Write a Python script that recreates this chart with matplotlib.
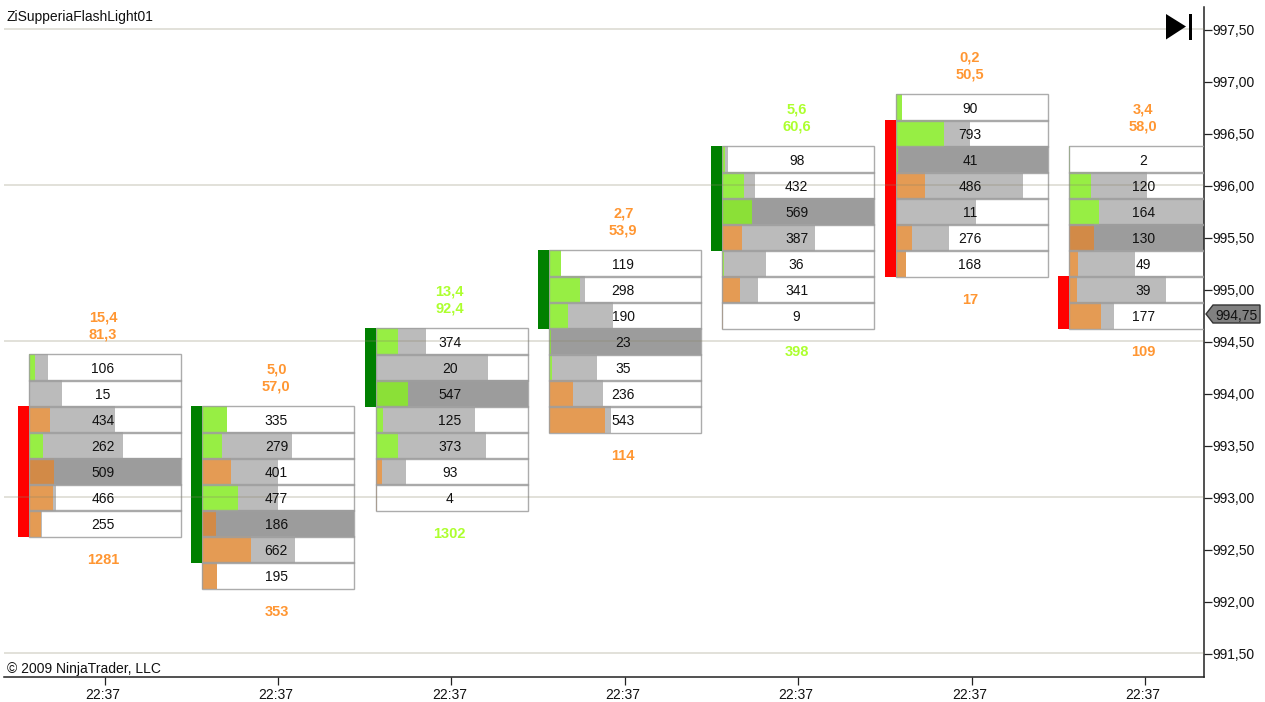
import matplotlib
matplotlib.use("Agg")
import matplotlib.pyplot as plt
from matplotlib.patches import Polygon, Rectangle
from matplotlib.transforms import ScaledTranslation

plt.rcParams['font.family'] = ['Liberation Sans', 'DejaVu Sans']

time_labels = ["22:37"] * 7
price_ticks = [997.5, 997.0, 996.5, 996.0, 995.5, 995.0, 994.5, 994.0,
               993.5, 993.0, 992.5, 992.0, 991.5]
price_labels = ["997,50", "997,00", "996,50", "996,00", "995,50", "995,00", "994,50",
                "994,00", "993,50", "993,00", "992,50", "992,00", "991,50"]
grid_prices = [997.5, 996.0, 994.5, 993.0, 991.5]

top_price = [994.25, 993.75, 994.5, 995.25, 996.25, 996.75, 996.25]
volumes = [
    [106, 15, 434, 262, 509, 466, 255],
    [335, 279, 401, 477, 186, 662, 195],
    [374, 20, 547, 125, 373, 93, 4],
    [119, 298, 190, 23, 35, 236, 543],
    [98, 432, 569, 387, 36, 341, 9],
    [90, 793, 41, 486, 11, 276, 168],
    [2, 120, 164, 130, 49, 39, 177],
]
# Length of the pale bar behind each row, in the 152-unit row width
total_len = [
    [19, 33, 86, 94, 152, 27, 13],
    [25, 90, 76, 76, 152, 93, 15],
    [50, 112, 152, 99, 110, 30, 0],
    [12, 36, 64, 152, 48, 54, 62],
    [6, 33, 152, 93, 44, 36, 0],
    [6, 74, 152, 127, 80, 53, 10],
    [0, 78, 152, 152, 66, 97, 45],
]
# Signed delta per row: + is green, - is orange
delta_len = [
    [6, 0, -21, 14, -25, -24, -12],
    [25, 20, -29, 36, -14, -49, -15],
    [22, 0, 32, 7, 22, -6, -1],
    [12, 31, 19, 2, 3, -24, -56],
    [3, 22, 30, -20, 2, -18, -1],
    [6, 48, 2, -29, 0, -16, -10],
    [1, 22, 30, -25, -9, -8, -32],
]
dark_row = [4, 4, 2, 3, 2, 2, 3]
side_top = [993.75, 993.75, 994.5, 995.25, 996.25, 996.5, 995.0]
side_bottom = [992.75, 992.5, 994.0, 994.75, 995.5, 995.25, 994.75]
side_up = [False, True, True, True, True, False, False]
head_a = ["15,4", "5,0", "13,4", "2,7", "5,6", "0,2", "3,4"]
head_b = ["81,3", "57,0", "92,4", "53,9", "60,6", "50,5", "58,0"]
head_up = [False, False, True, False, True, False, False]
foot = ["1281", "353", "1302", "114", "398", "17", "109"]
foot_up = [False, False, True, False, True, False, False]
last_price = 994.75
last_label = "994,75"

GREEN, GREEN_D = "#97EE44", "#8BE037"
ORANGE, ORANGE_D = "#E49B54", "#D28A47"
GRAY, GRAY_D = "#BBBBBB", "#9C9C9C"
TXT_G, TXT_O = "#ADFF2F", "#FF9632"

W, H = 1265, 702
X0_PX, STEP_PX = 104.5, 173.4
Y0_PX, UNIT_PX = 29.5, 104.0
AX_L, AX_R, AX_T, AX_B = 4.0, 1204.0, 6.5, 677.0


def xd(px):
    return (px - X0_PX) / STEP_PX


def yd(px):
    return 997.5 - (px - Y0_PX) / UNIT_PX


fig = plt.figure(figsize=(W / 100, H / 100), dpi=100, facecolor="white")
ax = fig.add_axes([AX_L / W, 1 - AX_B / H, (AX_R - AX_L) / W, (AX_B - AX_T) / H])
ax.set_xlim(xd(AX_L), xd(AX_R))
ax.set_ylim(yd(AX_B), yd(AX_T))

unit = 1 / STEP_PX
cell_l = -75.8 * unit
cell_w = 152 * unit
side_w = 11 * unit
rh = 0.25

for i, top in enumerate(top_price):
    left = i + cell_l
    n = len(volumes[i])
    prices = [top - rh * r for r in range(n)]
    for r, p in enumerate(prices):
        dark = r == dark_row[i]
        d = delta_len[i][r]
        ax.barh(p, cell_w, rh, left=left, color="white", zorder=1, linewidth=0)
        if total_len[i][r]:
            ax.barh(p, total_len[i][r] * unit, rh, left=left, linewidth=0, zorder=2,
                    color=GRAY_D if dark else GRAY)
        if d:
            col = (GREEN_D if dark else GREEN) if d > 0 else (ORANGE_D if dark else ORANGE)
            ax.barh(p, abs(d) * unit, rh, left=left, linewidth=0, zorder=3, color=col)
        ax.add_patch(Rectangle((left, p - rh / 2), cell_w, rh, fill=False,
                               edgecolor="#9E9E9E", alpha=0.85, linewidth=1.0, zorder=4))
        ax.text(i - 1.5 * unit, p, str(volumes[i][r]), ha="center", va="center_baseline",
                fontsize=10, color="#111111", zorder=7)
    ax.bar(left - side_w / 2, side_top[i] - side_bottom[i] + rh, side_w,
           bottom=side_bottom[i] - rh / 2, linewidth=0, zorder=4,
           color="#008000" if side_up[i] else "#FF0000")
    tc = TXT_G if head_up[i] else TXT_O
    box_top = top + rh / 2
    ax.text(i - 1.5 * unit, box_top + 38.5 / UNIT_PX, head_a[i], ha="center", va="center_baseline",
            fontsize=10.5, fontweight="bold", color=tc, zorder=7)
    ax.text(i - 1.5 * unit, box_top + 21.5 / UNIT_PX, head_b[i], ha="center", va="center_baseline",
            fontsize=10.5, fontweight="bold", color=tc, zorder=7)
    ax.text(i - 1.5 * unit, prices[-1] - rh / 2 - 22.5 / UNIT_PX, foot[i], ha="center",
            va="center_baseline", fontsize=10.5, fontweight="bold",
            color=TXT_G if foot_up[i] else TXT_O, zorder=7)

grid_shift = ScaledTranslation(0, 0.8 / 100, fig.dpi_scale_trans)
for g in grid_prices:
    ax.plot([0, 1], [g, g], color="#8A8468", alpha=0.25, linewidth=1.4, zorder=5,
            transform=ax.get_yaxis_transform() + grid_shift)

for s in ("left", "top"):
    ax.spines[s].set_visible(False)
for s in ("right", "bottom"):
    ax.spines[s].set_color("#222222")
    ax.spines[s].set_linewidth(1.1)

ax.yaxis.tick_right()
ax.set_yticks(price_ticks, price_labels)
ax.set_xticks(range(len(time_labels)), time_labels)
ax.tick_params(axis="y", length=5.8, width=0.9, color="#222222", pad=0.2, labelsize=10, labelcolor="#111111")
ax.tick_params(axis="x", length=5.8, width=0.9, color="#222222", pad=2.4, labelsize=10, labelcolor="#111111")
shift = ScaledTranslation(-2.0 / 100, 0, fig.dpi_scale_trans)
for lab in ax.get_xticklabels():
    lab.set_transform(lab.get_transform() + shift)

ax.text(xd(7), yd(16), "ZiSupperiaFlashLight01", ha="left", va="center_baseline",
        fontsize=10, color="#111111", zorder=7)
ax.text(xd(7), yd(668), "\u00a9 2009 NinjaTrader, LLC", ha="left", va="center_baseline",
        fontsize=10, color="#111111", zorder=7)

# Skip-to-end glyph, top right
ax.add_patch(Polygon([(xd(1166), yd(14)), (xd(1186), yd(26.5)), (xd(1166), yd(39.5))],
                     closed=True, facecolor="black", edgecolor="none", zorder=8))
ax.add_patch(Rectangle((xd(1188.7), yd(39.5)), 3.5 * unit, 25.5 / UNIT_PX,
                       facecolor="black", edgecolor="none", zorder=8))

# Last price flag on the axis
cy = 314
ax.add_patch(Polygon([(xd(1206), yd(cy)), (xd(1213), yd(cy - 9)), (xd(1260), yd(cy - 9)),
                      (xd(1260), yd(cy + 9)), (xd(1213), yd(cy + 9))],
                     closed=True, facecolor="#808080", edgecolor="#333333", linewidth=1,
                     clip_on=False, zorder=8))
ax.text(xd(1236.5), yd(cy), last_label, ha="center", va="center_baseline", fontsize=10,
        color="#111111", clip_on=False, zorder=9)

fig.savefig("out.png", dpi=100, facecolor="white")
